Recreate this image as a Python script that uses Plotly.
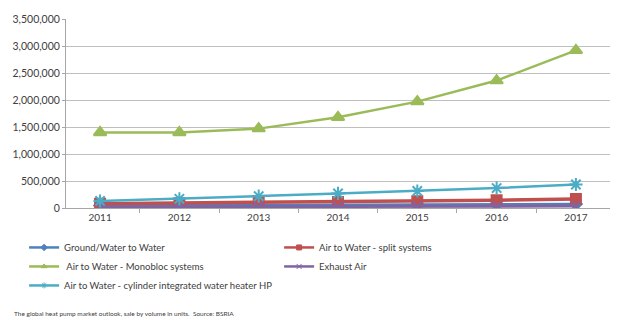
import plotly.graph_objects as go

years = ["2011", "2012", "2013", "2014", "2015", "2016", "2017"]
ground_water = [45000, 50000, 55000, 60000, 65000, 70000, 75000]
split_systems = [80000, 90000, 100000, 112000, 125000, 145000, 165000]
monobloc = [1400000, 1400000, 1470000, 1680000, 1970000, 2360000, 2920000]
exhaust_air = [20000, 22000, 24000, 26000, 28000, 31000, 35000]
cylinder_hp = [130000, 170000, 220000, 270000, 315000, 370000, 435000]
y_ticks = [0, 500000, 1000000, 1500000, 2000000, 2500000, 3000000, 3500000]

series = [
    ("Ground/Water to Water", ground_water, "#4F81BD", "diamond", 9, 2.5),
    ("Air to Water - split systems", split_systems, "#C0504D", "square", 10, 3.5),
    (" Air to Water - Monobloc systems", monobloc, "#9BBB59", "triangle-up", 11, 2.5),
    ("Exhaust Air", exhaust_air, "#8064A2", "x-thin-open", 10, 3),
    ("Air to Water - cylinder integrated water heater HP", cylinder_hp, "#4BACC6", "asterisk-open", 11, 2.5),
]

fig = go.Figure()
for name, vals, color, sym, size, lw in series:
    fig.add_trace(go.Scatter(
        x=years, y=vals, name=name, mode="lines+markers", showlegend=False,
        line=dict(color=color, width=lw),
        marker=dict(symbol=sym, size=size, color=color,
                    line=dict(color=color, width=2)),
    ))
# legend keys with small markers
for name, vals, color, sym, size, lw in series:
    fig.add_trace(go.Scatter(
        x=[years[0]], y=[None], name=name, mode="lines+markers",
        line=dict(color=color, width=2.5),
        marker=dict(symbol=sym, size=5, color=color,
                    line=dict(color=color, width=1)),
    ))

font = "Lato, 'Liberation Sans', sans-serif"
fig.update_layout(
    width=628, height=336,
    margin=dict(l=66, r=18, t=19, b=128, autoexpand=False),
    paper_bgcolor="white", plot_bgcolor="white",
    font=dict(family=font, size=10, color="#404040"),
    showlegend=True,
    legend=dict(
        orientation="h", x=-0.077, xanchor="left", y=-0.132, yanchor="top",
        entrywidth=210, entrywidthmode="pixels",
        font=dict(family=font, size=9.5, color="#404040"),
        itemwidth=30, tracegroupgap=0,
    ),
    xaxis=dict(
        type="category", showgrid=False, showline=True,
        linecolor="#A6A6A6", linewidth=1, ticks="outside",
        tickson="boundaries", ticklen=4, tickcolor="#A6A6A6",
        tickfont=dict(size=10, color="#404040"),
    ),
    yaxis=dict(
        range=[0, 3500000], tickvals=y_ticks, tickformat=",d",
        showgrid=True, gridcolor="#BFBFBF", gridwidth=1,
        showline=True, linecolor="#A6A6A6", linewidth=1,
        ticks="outside", ticklen=3, tickcolor="#A6A6A6",
        zeroline=False, tickfont=dict(size=10.5, color="#404040"),
    ),
)
fig.add_annotation(
    text="The global heat pump market outlook, sale by volume in units.  Source: BSRIA",
    xref="paper", yref="paper", x=-0.099, y=-0.556, xanchor="left", yanchor="middle",
    showarrow=False, font=dict(family=font, size=6.5, color="#404040"),
)

fig.write_html("out.html")
